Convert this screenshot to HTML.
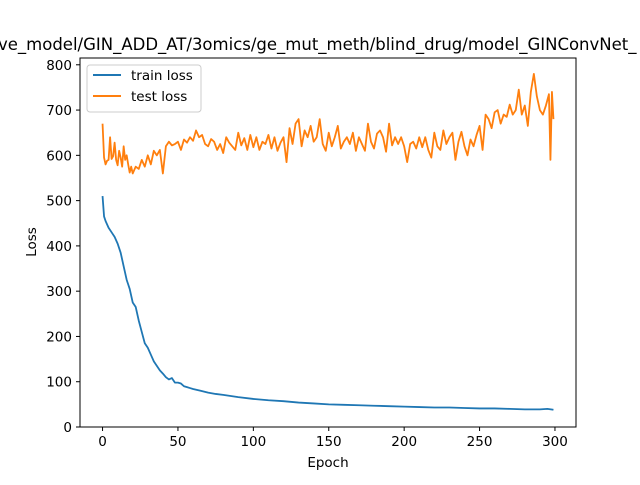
<!DOCTYPE html>
<html><head><meta charset="utf-8"><style>
body{margin:0;background:#fff;}
svg text{font-family:"DejaVu Sans","Liberation Sans",sans-serif;}
</style></head><body>
<svg id="chart" width="640" height="480" viewBox="0 0 640 480">
<rect width="640" height="480" fill="#fff"/>
<text x="-2" y="50" font-size="16.5" fill="#000">ve_model/GIN_ADD_AT/3omics/ge_mut_meth/blind_drug/model_GINConvNet_</text>
<g id="plot"></g>
<rect x="80" y="58" width="496" height="369" fill="none" stroke="#000" stroke-width="1"/>
<text x="328" y="467" font-size="13.5" text-anchor="middle">Epoch</text>
<text x="36" y="242" font-size="13.5" text-anchor="middle" transform="rotate(-90 36 242)">Loss</text>
<g>
<rect x="87" y="65" width="114" height="47" rx="3" fill="#fff" stroke="#ccc"/>
<line x1="93" y1="75" x2="121" y2="75" stroke="#1f77b4" stroke-width="2"/>
<text x="131" y="80" font-size="13.5">train loss</text>
<line x1="93" y1="96" x2="121" y2="96" stroke="#ff7f0e" stroke-width="2"/>
<text x="131" y="101" font-size="13.5">test loss</text>
</g>
</svg>
<script>
const xTicks=[0,50,100,150,200,250,300];
const yTicks=[0,100,200,300,400,500,600,700,800];
const trainEpochs=[0,1,2,4,6,8,10,12,14,16,18,20,22,24,26,28,30,32,34,36,38,40,42,44,46,48,50,52,54,56,58,60,65,70,75,80,90,100,110,120,130,140,150,160,170,180,190,200,210,220,230,240,250,260,270,280,290,295,299];
const trainLoss=[510,465,455,440,430,420,405,385,355,325,305,275,265,235,210,185,175,160,145,135,125,118,110,105,108,98,98,96,90,88,86,84,80,76,73,71,66,62,59,57,54,52,50,49,48,47,46,45,44,43,43,42,41,41,40,39,39,40,38];
const testEpochs=[0,1,2,3,4,5,6,7,8,9,10,11,12,13,14,15,16,17,18,19,20,22,24,26,28,30,32,34,36,38,40,42,44,46,48,50,52,54,56,58,60,62,64,66,68,70,72,74,76,78,80,82,84,86,88,90,92,94,96,98,100,102,104,106,108,110,112,114,116,118,120,122,124,126,128,130,132,134,136,138,140,142,144,146,148,150,152,154,156,158,160,162,164,166,168,170,172,174,176,178,180,182,184,186,188,190,192,194,196,198,200,202,204,206,208,210,212,214,216,218,220,222,224,226,228,230,232,234,236,238,240,242,244,246,248,250,252,254,256,258,260,262,264,266,268,270,272,274,276,278,280,282,284,286,288,290,292,294,296,297,298,299];
const testLoss=[670,595,580,588,590,640,592,598,628,590,578,610,595,575,620,590,600,580,562,575,560,575,570,590,575,600,580,610,600,612,560,620,630,622,625,630,612,635,628,640,632,655,640,645,625,620,636,630,612,625,605,640,628,620,612,650,622,638,612,645,618,640,612,630,625,645,615,640,610,628,640,585,660,625,670,680,620,655,640,665,630,640,680,625,610,650,620,640,665,615,630,640,625,650,610,640,625,610,670,630,615,648,655,640,608,670,622,640,625,640,620,585,625,630,615,640,618,640,612,595,650,620,612,655,625,640,650,590,630,652,620,600,635,620,645,665,612,690,680,660,695,700,670,690,685,712,690,700,745,690,710,665,740,780,730,700,690,710,735,590,740,680];
const NS="http://www.w3.org/2000/svg";
const X=v=>80+(v+14.95)*(496/328.9);
const Y=v=>427-v*(369/815);
const g=document.getElementById('plot');
function mk(t,a){const e=document.createElementNS(NS,t);for(const k in a)e.setAttribute(k,a[k]);return e;}
xTicks.forEach(t=>{
  const l=mk('line',{x1:X(t),x2:X(t),y1:427,y2:431,stroke:'#000'});
  
  
  g.appendChild(l);
  const tx=mk('text',{x:X(t),y:446,'font-size':13.5,'text-anchor':'middle'});
  tx.textContent=t;
  
  
  g.appendChild(tx);
});
yTicks.forEach(t=>{
  const l=mk('line',{x1:76,x2:80,y1:Y(t),y2:Y(t),stroke:'#000'});
  
  
  g.appendChild(l);
  const tx=mk('text',{x:72,y:Y(t)+5,'font-size':13.5,'text-anchor':'end'});
  tx.textContent=t;
  
  
  g.appendChild(tx);
});
const tr=mk('polyline',{points:trainEpochs.map((e,i)=>X(e)+','+Y(trainLoss[i])).join(' '),fill:'none',stroke:'#1f77b4','stroke-width':1.8,'stroke-linejoin':'round'});


g.appendChild(tr);
const te=mk('polyline',{points:testEpochs.map((e,i)=>X(e)+','+Y(testLoss[i])).join(' '),fill:'none',stroke:'#ff7f0e','stroke-width':1.8,'stroke-linejoin':'round'});


g.appendChild(te);
</script>
</body></html>
